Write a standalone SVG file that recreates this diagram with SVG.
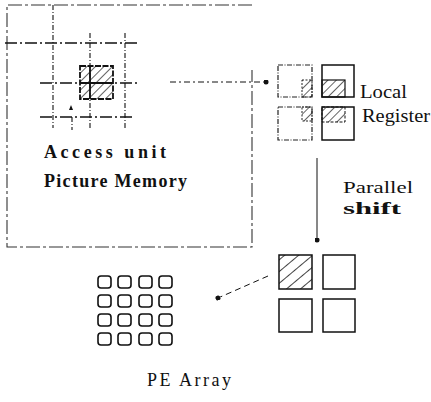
<svg xmlns="http://www.w3.org/2000/svg" width="431" height="402" viewBox="0 0 431 402">
<style>
.frame{fill:none;stroke:#333;stroke-width:1.1;stroke-dasharray:14 3 3 3}
.grid{fill:none;stroke:#111;stroke-width:1.3;stroke-dasharray:12 3 2 3}
.vgrid{fill:none;stroke:#111;stroke-width:1.1;stroke-dasharray:5 2 1 2}
.box{fill:#fff;stroke:#111;stroke-width:1.5}
.dbox{fill:#fff;stroke:#222;stroke-width:1.2;stroke-dasharray:5 1.5 1 1.5}
.pe{fill:#fff;stroke:#111;stroke-width:1.6}
.lbl{font-family:"Liberation Serif","DejaVu Serif",serif;fill:#111}
.conn{fill:none;stroke:#111;stroke-width:1}
</style>
<defs>
<pattern id="hatch" patternUnits="userSpaceOnUse" width="6" height="6" patternTransform="rotate(45)">
<line x1="0" y1="0" x2="0" y2="6" stroke="#222" stroke-width="1.4"/>
</pattern>
<pattern id="hatchWide" patternUnits="userSpaceOnUse" width="9" height="9" patternTransform="rotate(50)">
<line x1="0" y1="0" x2="0" y2="9" stroke="#111" stroke-width="1.6"/>
</pattern>
<marker id="dot" viewBox="0 0 6 6" refX="3" refY="3" markerWidth="5" markerHeight="5" markerUnits="userSpaceOnUse" orient="auto">
<circle cx="3" cy="3" r="3" fill="#111"/>
</marker>
</defs>

<g id="picture-memory">
<path class="frame" d="M252,5 H7 V247 H252 V70"/>
<line class="grid" x1="5" y1="43" x2="137" y2="43"/>
<line class="grid" x1="40" y1="83" x2="137" y2="83"/>
<line class="grid" x1="40" y1="117" x2="135" y2="117"/>
<line class="vgrid" x1="53" y1="5" x2="53" y2="128"/>
<line class="vgrid" x1="90" y1="33" x2="90" y2="128"/>
<line class="vgrid" x1="125" y1="33" x2="125" y2="128"/>
<line class="vgrid" x1="72" y1="117" x2="72" y2="130"/>
<polygon points="69,110 71,105 73,110" fill="#111"/>
<g id="access-unit">
<rect x="80" y="66" width="33" height="33" fill="url(#hatch)" stroke="#111" stroke-width="1.8" stroke-dasharray="6 1.5"/>
<line x1="80" y1="83" x2="113" y2="83" stroke="#111" stroke-width="1.8"/>
<line x1="90" y1="66" x2="90" y2="99" stroke="#111" stroke-width="1.8"/>
</g>
<text class="lbl" x="44" y="158" font-size="18" font-weight="bold" textLength="122" lengthAdjust="spacing">Access unit</text>
<text class="lbl" x="44" y="187" font-size="18" font-weight="bold" textLength="143" lengthAdjust="spacing">Picture Memory</text>
</g>

<g id="local-register">
<rect class="dbox" x="278" y="65" width="34" height="32"/>
<rect x="302" y="80" width="10" height="17" fill="url(#hatch)" stroke="#222" stroke-width="1" stroke-dasharray="2 1.5"/>
<rect class="box" x="322" y="65" width="32" height="32"/>
<rect x="322" y="80" width="23" height="17" fill="url(#hatch)" stroke="#111" stroke-width="1.2"/>
<rect class="dbox" x="278" y="107" width="34" height="33"/>
<rect x="302" y="107" width="10" height="14" fill="url(#hatch)" stroke="#222" stroke-width="1" stroke-dasharray="2 1.5"/>
<rect class="box" x="322" y="107" width="32" height="33"/>
<rect x="322" y="107" width="23" height="15" fill="url(#hatch)" stroke="#111" stroke-width="1" stroke-dasharray="3 1.5"/>
<text class="lbl" x="360" y="98" font-size="18" textLength="47" lengthAdjust="spacingAndGlyphs">Local</text>
<text class="lbl" x="362" y="122" font-size="18" textLength="68" lengthAdjust="spacingAndGlyphs">Register</text>
</g>

<g id="shift-register">
<rect class="box" x="279" y="255" width="33" height="34" style="fill:url(#hatchWide)"/>
<rect class="box" x="323" y="255" width="32" height="34"/>
<rect class="box" x="279" y="299" width="33" height="33"/>
<rect class="box" x="323" y="299" width="32" height="33"/>
<text class="lbl" x="343" y="193" font-size="17" textLength="70" lengthAdjust="spacingAndGlyphs">Parallel</text>
<text class="lbl" x="343" y="214" font-size="17" font-weight="bold" textLength="58" lengthAdjust="spacingAndGlyphs">shift</text>
</g>

<g id="pe-array">
<rect class="pe" x="98" y="276" width="13" height="12" rx="3"/>
<rect class="pe" x="118" y="276" width="13" height="12" rx="3"/>
<rect class="pe" x="139" y="276" width="13" height="12" rx="3"/>
<rect class="pe" x="159" y="276" width="13" height="12" rx="3"/>
<rect class="pe" x="98" y="295" width="13" height="12" rx="3"/>
<rect class="pe" x="118" y="295" width="13" height="12" rx="3"/>
<rect class="pe" x="139" y="295" width="13" height="12" rx="3"/>
<rect class="pe" x="159" y="295" width="13" height="12" rx="3"/>
<rect class="pe" x="98" y="314" width="13" height="12" rx="3"/>
<rect class="pe" x="118" y="314" width="13" height="12" rx="3"/>
<rect class="pe" x="139" y="314" width="13" height="12" rx="3"/>
<rect class="pe" x="159" y="314" width="13" height="12" rx="3"/>
<rect class="pe" x="98" y="333" width="13" height="12" rx="3"/>
<rect class="pe" x="118" y="333" width="13" height="12" rx="3"/>
<rect class="pe" x="139" y="333" width="13" height="12" rx="3"/>
<rect class="pe" x="159" y="333" width="13" height="12" rx="3"/>
<text class="lbl" x="147" y="386" font-size="18" textLength="84" lengthAdjust="spacing">PE Array</text>
</g>

<g id="connectors">
<line class="conn" x1="170" y1="82" x2="266" y2="82" stroke-dasharray="6 3 2 3" marker-end="url(#dot)"/>
<line class="conn" x1="317" y1="158" x2="317" y2="240" stroke-width="1.3" marker-end="url(#dot)"/>
<line class="conn" x1="268" y1="276" x2="218" y2="298" stroke-dasharray="6 4" marker-end="url(#dot)"/>
</g>
</svg>
